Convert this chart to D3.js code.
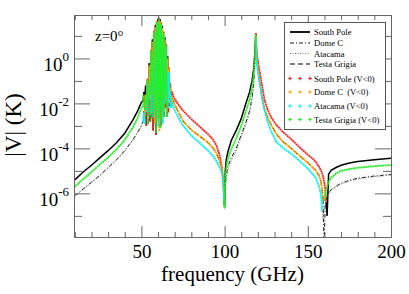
<!DOCTYPE html>
<html>
<head>
<meta charset="utf-8">
<script src="https://cdn.jsdelivr.net/npm/d3@7"></script>
<style>
body { margin: 0; background: #fff; }
svg { display: block; font-family: "Liberation Serif", "Times New Roman", serif; }
</style>
</head>
<body>
<div id="chart"></div>
<script>
// DATA
// frequency grid (GHz), shared by all the sites
var freq = [
    10, 15, 20, 25, 30, 35, 40, 45, 48, 50,
    51.0, 51.5, 52.0, 52.5, 53.0, 53.6, 54.15, 54.7, 55.25, 55.8, 56.2, 56.6, 57.1, 57.6,
    58.0, 58.4, 58.8, 59.2, 59.5, 59.8, 60.1, 60.4, 60.8, 61.2, 61.55, 61.9, 62.2, 62.5,
    62.9, 63.3, 63.7, 64.1, 64.5, 64.9, 65.35, 65.8, 66.2, 66.6, 67.0, 67.4, 67.8, 68.3,
    69, 70, 72, 75, 80, 85, 90, 93, 95, 97, 98.5, 99.3, 99.7,
    100, 100.4, 101, 102, 104, 107, 110, 113, 115, 116.5, 117.5, 118.2, 118.75,
    119.3, 120, 121, 122.5, 124, 126, 128, 131, 135, 140, 145, 150, 153, 155, 157, 158,
    158.6, 159.2, 159.8, 160.4, 161, 161.6, 162.5,
    164, 167, 170, 175, 180, 190, 200
];

// Stokes V (K), signed, one value per frequency
var southPole = [
    3.98e-6, 8.9e-6, 1.78e-5, 3.8e-5, 7.9e-5, 1.78e-4, 4.7e-4, 1.9e-3, 5.0e-3, 1.12e-2,
    1.26e-2, 3.16e-2, 1.0e-2, 6.3e-2, 1.0e-3, -0.126, -6.3e-3, 0.63, 1.58e-3, -2.5, -2.5e-2, 7.1, 6.3e-4, -17.8,
    -1.58e-2, 31.6, 4.0e-4, -44.7, -3.98e-2, 56, 2.5e-3, -71, -3.16e-2, 56, 1.0e-3, -40, -2.0e-2, 28,
    3.16e-3, -15.8, -2.5e-2, 8.9, 6.3e-3, -4.5, -1.26e-2, 1.26, 4.0e-3, -0.4, -1.58e-2, -7.9e-2, -1.26e-2, -3.5e-2,
    -2.24e-2, -1.58e-2, -9.3e-3, -4.8e-3, -2.0e-3, -9.3e-4, -4.3e-4, -2.5e-4, -1.41e-4, -5.0e-5, -1.26e-5, -2.5e-6, -6.3e-7,
    2.5e-7, 1.0e-5, 3.16e-5, 7.1e-5, 2.24e-4, 6.3e-4, 2.1e-3, 1.12e-2, 3.16e-2, 0.1, 0.35, 1.78, 13.2,
    -1.78, -0.79, -0.28, -6.3e-2, -1.41e-2, -5.0e-3, -2.4e-3, -1.12e-3, -5.4e-4, -2.6e-4, -1.12e-4, -5.2e-5, -3.5e-5, -2.4e-5, -1.41e-5, -1.0e-5,
    -7.9e-6, -5.6e-6, -3.5e-6, -1.78e-6, -4.0e-7, 1.0e-7, 7.1e-6,
    1.05e-5, 1.41e-5, 1.78e-5, 2.24e-5, 2.6e-5, 3.16e-5, 3.6e-5
];

var domeC = [
    7.9e-7, 1.58e-6, 3.16e-6, 6.3e-6, 1.41e-5, 3.16e-5, 7.9e-5, 2.5e-4, 5.6e-4, 1.0e-3,
    1.58e-3, 5.0e-3, 2.5e-3, -2.5e-2, -6.3e-3, 0.1, 2.5e-3, -0.5, -1.58e-2, 2.0, 4.0e-3, -5.6, -2.0e-2, 14.1,
    1.26e-3, -25, -1.26e-2, 35.5, 1.58e-3, -44.7, -2.5e-2, 56, 6.3e-4, -44.7, -3.16e-2, 31.6, 2.0e-3, -22.4,
    -2.0e-2, 12.6, 5.0e-3, -7.1, -1.58e-2, 3.5, 4.0e-3, -1.0, -1.26e-2, -0.32, -1.0e-2, -5.0e-2, -7.9e-3, -1.78e-2,
    -1.41e-2, -8.9e-3, -4.5e-3, -1.66e-3, -6.6e-4, -3.5e-4, -1.82e-4, -1.05e-4, -6.3e-5, -2.8e-5, -1.12e-5, -2.5e-6, -5.0e-7,
    3.16e-7, 2.5e-6, 6.3e-6, 1.58e-5, 3.8e-5, 1.0e-4, 4.0e-4, 1.58e-3, 4.5e-3, 1.78e-2, 7.9e-2, 0.63, 10,
    -1.0, -0.4, -0.1, -1.78e-2, -5.6e-3, -2.24e-3, -1.12e-3, -4.5e-4, -2.0e-4, -1.0e-4, -4.7e-5, -2.34e-5, -1.41e-5, -1.0e-5, -5.6e-6, -3.16e-6,
    -1.41e-6, -5.0e-7, 3.2e-9, 2.5e-7, 5.0e-7, 7.1e-7, 1.0e-6,
    1.48e-6, 2.1e-6, 2.8e-6, 3.8e-6, 4.7e-6, 5.9e-6, 6.9e-6
];

var atacama = [
    7.4e-7, 1.48e-6, 2.95e-6, 5.9e-6, 1.32e-5, 2.95e-5, 7.4e-5, 2.34e-4, 5.2e-4, 9.3e-4,
    1.41e-3, -4.0e-3, -1.26e-3, 2.0e-2, 4.0e-3, -7.9e-2, -1.26e-2, 0.4, 3.16e-3, -1.58, -3.16e-2, 4.5, 2.5e-3, -10,
    -3.98e-2, 20, 5.0e-3, -28, -2.0e-2, 35.5, 1.0e-3, -40, -3.98e-2, 31.6, 6.3e-3, -22.4, -2.5e-2, 15.8,
    1.26e-3, -10, -3.16e-2, 5.6, 1.0e-2, -2.8, -2.5e-2, 0.79, 6.3e-3, -0.25, -1.26e-2, -3.16e-2, -6.3e-3, -1.12e-2,
    -7.9e-3, -5.0e-3, -2.5e-3, -1.05e-3, -3.7e-4, -1.78e-4, -7.9e-5, -4.7e-5, -2.8e-5, -1.41e-5, -7.9e-6, -2.5e-6, -4.0e-7,
    2.0e-7, 1.78e-6, 4.5e-6, 1.12e-5, 2.8e-5, 7.9e-5, 3.16e-4, 1.26e-3, 3.5e-3, 1.41e-2, 6.3e-2, 0.5, 8.9,
    -0.63, -0.25, -8.9e-2, -1.78e-2, -5.0e-3, -1.41e-3, -5.6e-4, -2.0e-4, -1.05e-4, -5.8e-5, -2.8e-5, -1.26e-5, -7.1e-6, -4.5e-6, -1.78e-6, -7.9e-7,
    -1.58e-7, 6.3e-8, 1.6e-7, 2.5e-7, 4.0e-7, 6.3e-7, 9.3e-7,
    1.38e-6, 1.95e-6, 2.6e-6, 3.55e-6, 4.4e-6, 5.5e-6, 6.5e-6
];

var testaGrigia = [
    -2.0e-6, -4.3e-6, -8.9e-6, -1.9e-5, -4.0e-5, -8.9e-5, -2.4e-4, -8.9e-4, -2.5e-3, -6.3e-3,
    -7.9e-3, -2.5e-2, -5.0e-3, 5.6e-2, 1.0e-2, -0.112, -1.26e-3, 0.56, 2.0e-2, -2.24, -2.0e-3, 6.3, 2.5e-2, -15.8,
    -3.16e-3, 28, 5.0e-4, -40, -6.3e-3, 50, 2.0e-2, -63, -2.0e-3, 50, 7.9e-4, -35.5, -5.0e-3, 25,
    1.58e-2, -14.1, -2.5e-3, 7.9, 2.5e-2, -4.0, -2.5e-3, 1.12, 1.58e-2, 0.35, 7.9e-3, 6.3e-2, 1.0e-2, 2.0e-2,
    1.41e-2, 8.9e-3, 4.5e-3, 1.66e-3, 6.6e-4, 3.5e-4, 1.82e-4, 1.05e-4, 6.3e-5, 2.8e-5, 1.12e-5, 2.5e-6, 5.0e-7,
    -2.24e-7, -3.98e-6, -1.41e-5, -3.5e-5, -8.9e-5, -2.8e-4, -1.0e-3, -5.0e-3, -1.41e-2, -5.0e-2, -0.2, -1.26, -12,
    1.0, 0.4, 0.1, 1.78e-2, 5.6e-3, 2.24e-3, 1.12e-3, 4.5e-4, 2.0e-4, 1.0e-4, 4.7e-5, 2.34e-5, 1.41e-5, 1.0e-5, 5.6e-6, 3.16e-6,
    1.41e-6, 5.0e-7, -5.0e-7, -8.9e-7, -1.41e-6, -2.0e-6, -3.16e-6,
    -5.0e-6, -7.6e-6, -1.0e-5, -1.2e-5, -1.38e-5, -1.62e-5, -1.82e-5
];

// axis ticks
var xMajor = [50, 100, 150, 200];
var xMinor = [10, 20, 30, 40, 60, 70, 80, 90, 110, 120, 130, 140, 160, 170, 180, 190];
var yMajor = [1e0, 1e-2, 1e-4, 1e-6];
var yMajorExp = ["0", "-2", "-4", "-6"];
var yMinor = [1e1, 1e-1, 1e-3, 1e-5, 1e-7];

var siteNames = ["South Pole", "Dome C", "Atacama", "Testa Grigia"];
var negNames = ["South Pole (V<0)", "Dome C  (V<0)", "Atacama (V<0)", "Testa Grigia (V<0)"];

// DEFINE VARIABLES
// (window.top is read-only, so plot edges get their own names)
var W = 409, H = 294;
var plotLeft = 74, plotRight = 391, plotTop = 15, plotBottom = 237;
var frameColor = "#666";

// line style of each site (V>0) and colour of its V<0 part
var sites = [
    { values: southPole,   stroke: "#000", width: 1.5, dash: null,      neg: "#ff2020" },
    { values: domeC,       stroke: "#000", width: 0.9, dash: "4,2,1,2", neg: "#ffa500" },
    { values: atacama,     stroke: "#777", width: 1,   dash: "1,1.5",   neg: "#00f0f0" },
    { values: testaGrigia, stroke: "#000", width: 1.1, dash: "5,3",     neg: "#22ee22" }
];

// DEFINE SCALES
var x = d3
    .scaleLinear()
    .domain([9.5, 200])
    .range([plotLeft, plotRight]);

var y = d3
    .scaleLog()
    .domain([Math.pow(10, -7.94), Math.pow(10, 1.93)])
    .range([plotBottom, plotTop]);

var line = d3
    .line()
    .x(d => x(d.f))
    .y(d => y(Math.abs(d.v)));

// split a series into runs of one sign, each run starts at the last point of the one before
function splitRuns(values) {
    var runs = [];
    var cur = null;
    values.forEach(function (v, i) {
        var neg = v < 0;
        if (!cur || cur.neg !== neg) {
            var start = cur ? [cur.pts[cur.pts.length - 1]] : [];
            cur = { neg: neg, pts: start };
            runs.push(cur);
        }
        cur.pts.push({ f: freq[i], v: v });
    });
    return runs;
}

// create an SVG
var svg = d3
    .select("#chart")
    .append("svg")
    .attr("width", W)
    .attr("height", H);

svg.append("defs")
    .append("clipPath")
    .attr("id", "plot-clip")
    .append("rect")
    .attr("x", plotLeft)
    .attr("y", plotTop)
    .attr("width", plotRight - plotLeft)
    .attr("height", plotBottom - plotTop);

var plot = svg.append("g").attr("clip-path", "url(#plot-clip)");

// V>0 parts first, as lines
sites.forEach(function (s) {
    splitRuns(s.values).filter(r => !r.neg).forEach(function (r) {
        plot.append("path")
            .attr("d", line(r.pts))
            .attr("fill", "none")
            .attr("stroke", s.stroke)
            .attr("stroke-width", s.width)
            .attr("stroke-dasharray", s.dash);
    });
});

// V<0 parts on top, in colour; a fine dash gives the look of dense markers
sites.forEach(function (s) {
    splitRuns(s.values).filter(r => r.neg).forEach(function (r) {
        plot.append("path")
            .attr("d", line(r.pts))
            .attr("fill", "none")
            .attr("stroke", s.neg)
            .attr("stroke-width", 1.8)
            .attr("stroke-dasharray", "2,0.45");
    });
});

// AXES (ticks point inwards on all four sides)
function styleAxis(g) {
    g.selectAll("line, path").attr("stroke", frameColor);
    g.attr("font-family", null);
}

svg.append("g")
    .attr("transform", "translate(0," + plotBottom + ")")
    .call(d3.axisBottom(x).tickValues(xMinor).tickSize(-5).tickSizeOuter(0).tickFormat(""))
    .call(styleAxis);

svg.append("g")
    .attr("transform", "translate(0," + plotBottom + ")")
    .call(d3.axisBottom(x).tickValues(xMajor).tickSize(-11).tickSizeOuter(0).tickPadding(8).tickFormat(d3.format("d")))
    .call(styleAxis)
    .attr("font-size", 19)
    .selectAll("text")
    .attr("fill", "#000");

svg.append("g")
    .attr("transform", "translate(0," + plotTop + ")")
    .call(d3.axisTop(x).tickValues(xMinor).tickSize(-5).tickSizeOuter(0).tickFormat(""))
    .call(styleAxis);

svg.append("g")
    .attr("transform", "translate(0," + plotTop + ")")
    .call(d3.axisTop(x).tickValues(xMajor).tickSize(-11).tickSizeOuter(0).tickFormat(""))
    .call(styleAxis);

svg.append("g")
    .attr("transform", "translate(" + plotLeft + ",0)")
    .call(d3.axisLeft(y).tickValues(yMinor).tickSize(-8).tickSizeOuter(0).tickFormat(""))
    .call(styleAxis);

var yAxisLeft = svg.append("g")
    .attr("transform", "translate(" + plotLeft + ",0)")
    .call(d3.axisLeft(y).tickValues(yMajor).tickSize(-16).tickSizeOuter(0).tickFormat(""))
    .call(styleAxis);

svg.append("g")
    .attr("transform", "translate(" + plotRight + ",0)")
    .call(d3.axisRight(y).tickValues(yMinor).tickSize(-8).tickSizeOuter(0).tickFormat(""))
    .call(styleAxis);

svg.append("g")
    .attr("transform", "translate(" + plotRight + ",0)")
    .call(d3.axisRight(y).tickValues(yMajor).tickSize(-16).tickSizeOuter(0).tickFormat(""))
    .call(styleAxis);

// power of ten labels
yAxisLeft.selectAll(".tick").each(function (d, i) {
    var t = d3.select(this).select("text")
        .attr("x", -5)
        .attr("y", 12)
        .attr("dy", null)
        .attr("text-anchor", "end")
        .attr("fill", "#000")
        .attr("font-size", 19);
    t.append("tspan").text("10");
    t.append("tspan")
        .attr("dy", -10)
        .attr("font-size", 13)
        .text(yMajorExp[i]);
});

// axis titles
svg.append("text")
    .attr("x", (plotLeft + plotRight) / 2)
    .attr("y", 281)
    .attr("text-anchor", "middle")
    .attr("font-size", 21)
    .text("frequency (GHz)");

svg.append("text")
    .attr("transform", "translate(21," + ((plotTop + plotBottom) / 2 - 1) + ")rotate(-90)")
    .attr("text-anchor", "middle")
    .attr("font-size", 23)
    .text("|V| (K)");

svg.append("text")
    .attr("x", 95)
    .attr("y", 41)
    .attr("font-size", 15)
    .text("z=0°");

// LEGEND
var legend = svg.append("g");

legend.append("rect")
    .attr("x", 284.5)
    .attr("y", 22.5)
    .attr("width", 101)
    .attr("height", 107)
    .attr("fill", "#fff")
    .attr("stroke", "#555");

var lineRows = [32, 43, 53.5, 64];
var negRows = [78.5, 92, 106, 119.5];

sites.forEach(function (s, i) {
    legend.append("line")
        .attr("x1", 290)
        .attr("x2", 310)
        .attr("y1", lineRows[i])
        .attr("y2", lineRows[i])
        .attr("stroke", s.stroke)
        .attr("stroke-width", i === 0 ? 1.8 : s.width)
        .attr("stroke-dasharray", s.dash);
    legend.append("text")
        .attr("x", 314)
        .attr("y", lineRows[i] + 3)
        .attr("font-size", 8.6)
        .text(siteNames[i]);

    [290, 300, 310].forEach(function (px) {
        legend.append("path")
            .attr("d", d3.symbol().type(d3.symbolCross).size(7)())
            .attr("transform", "translate(" + px + "," + negRows[i] + ")")
            .attr("fill", s.neg);
    });
    legend.append("text")
        .attr("x", 314)
        .attr("y", negRows[i] + 3)
        .attr("font-size", 8.6)
        .style("white-space", "pre")
        .text(negNames[i]);
});
</script>
</body>
</html>
